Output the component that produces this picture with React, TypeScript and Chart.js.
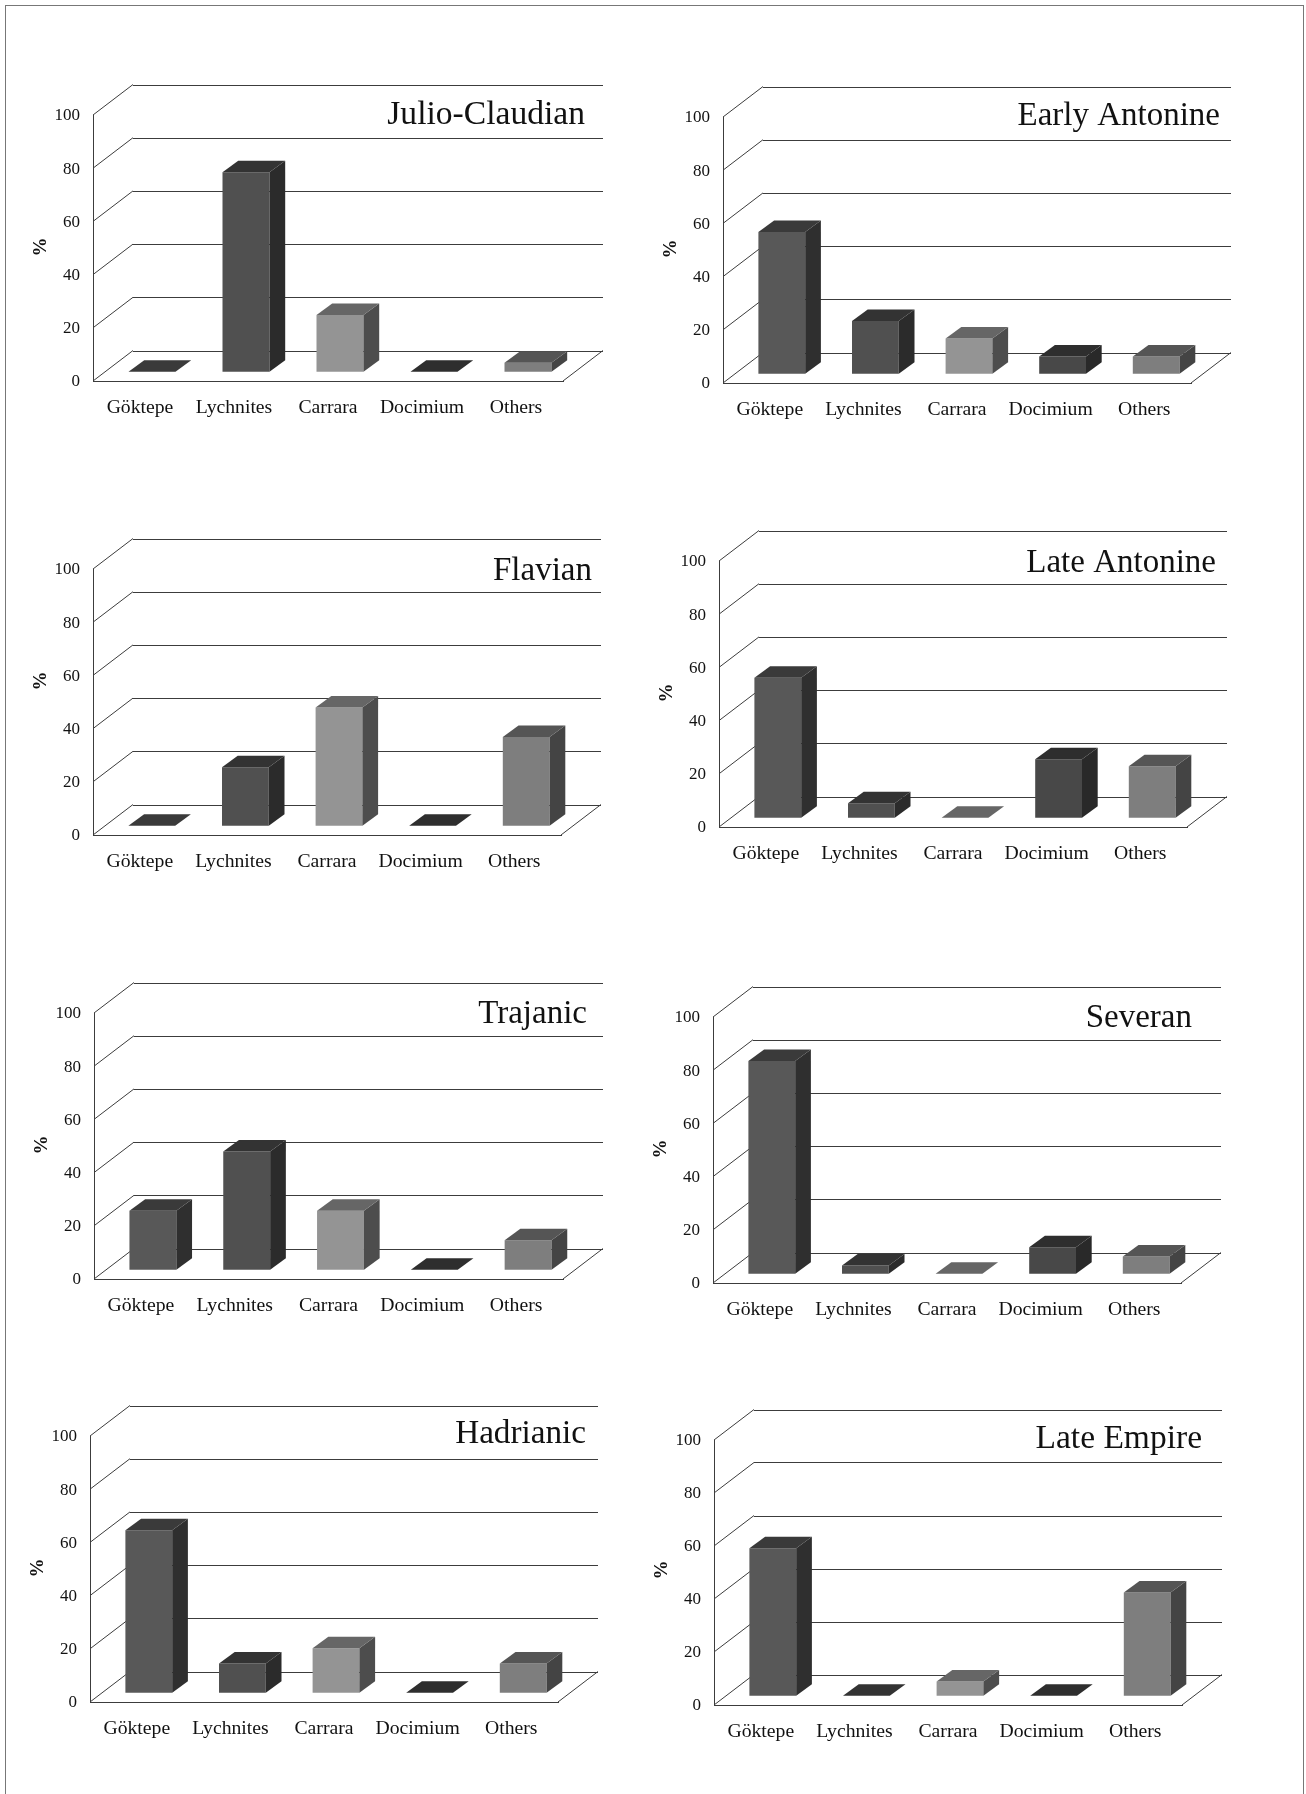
import React, { useEffect, useRef } from "react";
import { Chart, registerables } from "chart.js";

Chart.register(...registerables);

// ---------- data ----------
const categories = ["Göktepe", "Lychnites", "Carrara", "Docimium", "Others"];
const julioClaudian = [0, 75, 21.3, 0, 3.4];
const earlyAntonine = [53.3, 19.8, 13.2, 6.5, 6.5];
const flavian = [0, 22, 44.4, 0, 33.3];
const lateAntonine = [52.6, 5.4, 0, 22, 19.3];
const trajanic = [22.2, 44.4, 22.2, 0, 11.1];
const severan = [80, 3.1, 0, 9.9, 6.5];
const hadrianic = [61.1, 11, 16.7, 0, 11];
const lateEmpire = [55.6, 0, 5.4, 0, 38.9];

// ---------- styles ----------
const frontColors = ["#585858", "#505050", "#949494", "#484848", "#7e7e7e"];
const sideColors = ["#2f2f2f", "#2b2b2b", "#4d4d4d", "#292929", "#444444"];
const topColors = ["#3a3a3a", "#333333", "#666666", "#2e2e2e", "#555555"];
const LINE = "#3c3c3c";
const SERIF = "'Liberation Serif', 'Times New Roman', serif";

// ---------- layout (page px) ----------
const M_LEFT = 80, M_TOP = 50, M_BOTTOM = 60, CANVAS_W = 600;
const WALL_DX = 40, WALL_DY = 30.5, BAR_DX = 12, BAR_DY = 9.3, DEPTH_DX = 15.7, DEPTH_DY = 11.5;

const panels = [
  { title: "Julio-Claudian", values: julioClaudian, x0: 93, y0: 381, h: 266, w: 470, titleRight: 585, titleBase: 124, titleSize: 33.6, pctDy: 134 },
  { title: "Early Antonine", values: earlyAntonine, x0: 723, y0: 383, h: 266, w: 468, titleRight: 1220, titleBase: 125, titleSize: 33, pctDy: 134 },
  { title: "Flavian", values: flavian, x0: 93, y0: 835, h: 266, w: 468, titleRight: 592, titleBase: 580, titleSize: 33, pctDy: 154 },
  { title: "Late Antonine", values: lateAntonine, x0: 719, y0: 827, h: 266, w: 468, titleRight: 1216, titleBase: 572, titleSize: 33, pctDy: 134 },
  { title: "Trajanic", values: trajanic, x0: 94, y0: 1279, h: 266, w: 469, titleRight: 587, titleBase: 1023, titleSize: 33, pctDy: 134 },
  { title: "Severan", values: severan, x0: 713, y0: 1283, h: 266, w: 468, titleRight: 1192, titleBase: 1027, titleSize: 33, pctDy: 134 },
  { title: "Hadrianic", values: hadrianic, x0: 90, y0: 1702, h: 266, w: 468, titleRight: 586, titleBase: 1443, titleSize: 33.2, pctDy: 134 },
  { title: "Late Empire", values: lateEmpire, x0: 714, y0: 1705, h: 265, w: 468, titleRight: 1202, titleBase: 1448, titleSize: 33.5, pctDy: 135 },
];

type PanelSpec = (typeof panels)[number];

function Panel({ spec }: { spec: PanelSpec }) {
  const ref = useRef<HTMLCanvasElement>(null);
  const left = spec.x0 - M_LEFT;
  const top = spec.y0 - spec.h - M_TOP;
  const height = M_TOP + spec.h + M_BOTTOM;

  useEffect(() => {
    const plugin = {
      id: "pseudo3d",
      beforeDatasetsDraw(chart: any) {
        const { ctx, chartArea, scales } = chart;
        const { left: l, right: r, bottom: b } = chartArea;
        ctx.save();
        ctx.strokeStyle = LINE;
        ctx.lineWidth = 1;
        ctx.beginPath();
        scales.y.ticks.forEach((t: any) => {
          const y = scales.y.getPixelForValue(t.value);
          ctx.moveTo(l, y);
          ctx.lineTo(l + WALL_DX, y - WALL_DY);
          ctx.moveTo(l + WALL_DX, Math.round(y - WALL_DY) + 0.5);
          ctx.lineTo(r + WALL_DX, Math.round(y - WALL_DY) + 0.5);
        });
        ctx.moveTo(r, b);
        ctx.lineTo(r + WALL_DX, b - WALL_DY);
        ctx.stroke();
        ctx.restore();
      },
      beforeDatasetDraw(chart: any) {
        chart.ctx.save();
        chart.ctx.translate(BAR_DX, -BAR_DY);
      },
      afterDatasetDraw(chart: any, args: any) {
        const { ctx } = chart;
        args.meta.data.forEach((bar: any, i: number) => {
          const { x, y, base, width } = bar.getProps(["x", "y", "base", "width"], true);
          const xl = x - width / 2;
          const xr = x + width / 2;
          ctx.fillStyle = sideColors[i];
          ctx.beginPath();
          ctx.moveTo(xr, y);
          ctx.lineTo(xr + DEPTH_DX, y - DEPTH_DY);
          ctx.lineTo(xr + DEPTH_DX, base - DEPTH_DY);
          ctx.lineTo(xr, base);
          ctx.closePath();
          ctx.fill();
          ctx.fillStyle = topColors[i];
          ctx.beginPath();
          ctx.moveTo(xl, y);
          ctx.lineTo(xl + DEPTH_DX, y - DEPTH_DY);
          ctx.lineTo(xr + DEPTH_DX, y - DEPTH_DY);
          ctx.lineTo(xr, y);
          ctx.closePath();
          ctx.fill();
        });
        ctx.restore();
      },
      afterDraw(chart: any) {
        const { ctx, chartArea } = chart;
        ctx.save();
        ctx.fillStyle = "#111111";
        ctx.font = `${spec.titleSize}px ${SERIF}`;
        ctx.textAlign = "right";
        ctx.textBaseline = "alphabetic";
        ctx.fillText(spec.title, spec.titleRight - left, spec.titleBase - top);
        ctx.translate(chartArea.left - 51.5, chartArea.bottom - spec.pctDy);
        ctx.rotate(-Math.PI / 2);
        ctx.font = `bold 19px ${SERIF}`;
        ctx.textAlign = "center";
        ctx.textBaseline = "middle";
        ctx.fillText("%", 0, 0);
        ctx.restore();
      },
    };

    const chart = new Chart(ref.current as HTMLCanvasElement, {
      type: "bar",
      data: {
        labels: categories,
        datasets: [
          {
            data: spec.values,
            backgroundColor: frontColors,
            borderWidth: 0,
            barPercentage: 0.5,
            categoryPercentage: 1,
            clip: false,
          } as any,
        ],
      },
      options: {
        responsive: false,
        animation: false,
        devicePixelRatio: 1,
        layout: { padding: { top: M_TOP, right: CANVAS_W - M_LEFT - spec.w, left: 0, bottom: 0 } },
        plugins: { legend: { display: false }, tooltip: { enabled: false } },
        scales: {
          x: {
            grid: { display: false },
            border: { display: true, color: LINE, width: 1 },
            afterFit: (s: any) => { s.height = M_BOTTOM; },
            ticks: {
              color: "#111111",
              font: { family: SERIF, size: 19.7 },
              padding: 7,
              autoSkip: false,
              maxRotation: 0,
              minRotation: 0,
            },
          },
          y: {
            min: 0,
            max: 100,
            grid: { display: false },
            border: { display: true, color: LINE, width: 1 },
            afterFit: (s: any) => { s.width = M_LEFT; },
            ticks: {
              stepSize: 20,
              color: "#111111",
              font: { family: SERIF, size: 17 },
              padding: 5,
              labelOffset: 1,
            },
          },
        },
      } as any,
      plugins: [plugin],
    });
    return () => chart.destroy();
  }, []);

  return (
    <canvas
      ref={ref}
      width={CANVAS_W}
      height={height}
      style={{ position: "absolute", left, top, width: CANVAS_W, height }}
    />
  );
}

export default function App() {
  return (
    <div style={{ position: "absolute", left: 0, top: 0, width: 1306, height: 1794, overflow: "hidden", background: "#fff" }}>
      <div style={{ position: "absolute", left: 5, top: 5, width: 1297, height: 1900, border: "1px solid #777" }} />
      {panels.map((p) => (
        <Panel key={p.title} spec={p} />
      ))}
    </div>
  );
}
